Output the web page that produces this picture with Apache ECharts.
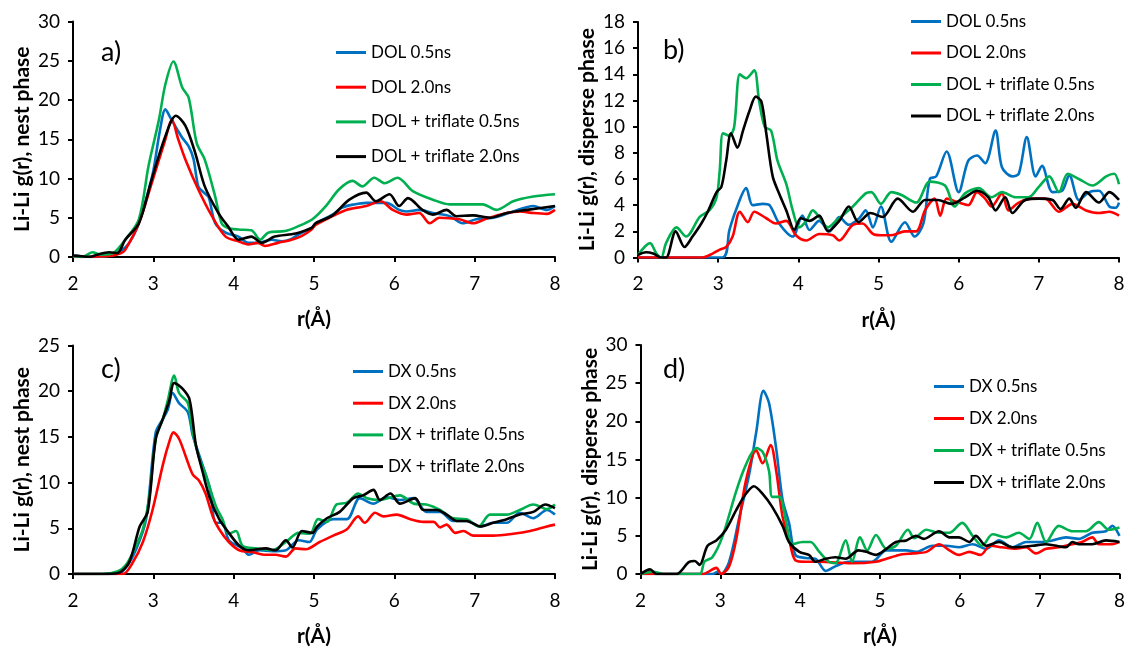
<!DOCTYPE html>
<html>
<head>
<meta charset="utf-8">
<script src="https://cdn.jsdelivr.net/npm/echarts@6/dist/echarts.min.js"></script>
<style>
  html, body { margin: 0; padding: 0; background: #fff; }
  #chart { width: 1128px; height: 648px; }
</style>
</head>
<body>
<div id="chart"></div>
<script>
// Li-Li radial distribution functions g(r), sampled as [r (Å), g(r)] pairs.

// a) DOL, nest phase
const dolNest05 = [[2,0.2],[2.1,0.1],[2.3,0],[2.5,0.3],[2.6,0.8],[2.7,1.8],[2.8,3.8],[2.9,7],[3.0,11],[3.08,16],[3.15,18.8],[3.22,17.6],[3.3,16.2],[3.36,15.2],[3.44,14.1],[3.5,12.5],[3.56,9.0],[3.63,8.2],[3.69,7.6],[3.77,4.3],[3.9,3.1],[4.06,2.6],[4.18,1.8],[4.3,1.8],[4.47,2.2],[4.6,2.0],[4.72,2.3],[4.81,2.9],[4.97,3.7],[5.02,4.3],[5.23,5.4],[5.35,6.3],[5.5,6.7],[5.65,6.9],[5.9,6.9],[6.06,6.0],[6.15,5.8],[6.31,6.0],[6.48,5.6],[6.69,5.2],[6.85,4.3],[7.02,4.8],[7.23,5.0],[7.48,5.8],[7.73,6.5],[7.9,6.0],[8.0,6.5]];
const dolNest20 = [[2,0],[2.4,0.1],[2.5,0.2],[2.6,0.5],[2.65,0.9],[2.82,4.3],[2.98,9.4],[3.15,15],[3.23,17.5],[3.31,15],[3.4,12.4],[3.56,8.6],[3.73,5.2],[3.9,2.6],[4.06,2.0],[4.18,1.6],[4.3,1.8],[4.39,1.4],[4.55,1.8],[4.72,2.2],[4.85,2.7],[4.97,3.5],[5.02,4.1],[5.23,5.2],[5.4,6.0],[5.65,6.5],[5.83,7.1],[5.98,6.0],[6.15,5.4],[6.31,5.6],[6.44,4.3],[6.56,5.0],[6.81,4.8],[6.98,4.3],[7.15,4.9],[7.4,5.6],[7.56,5.8],[7.73,5.6],[7.9,5.5],[8.0,6.0]];
const dolTfNest05 = [[2,0.1],[2.12,0],[2.24,0.6],[2.35,0.3],[2.5,0.5],[2.65,2.2],[2.82,4.8],[2.94,11.6],[3.07,17.5],[3.15,22],[3.25,24.9],[3.36,21.6],[3.44,20.3],[3.54,14.5],[3.64,12.4],[3.77,7.7],[3.85,4.3],[3.93,3.7],[4.06,3.5],[4.22,3.4],[4.33,2.2],[4.43,3.1],[4.64,3.3],[4.8,3.9],[4.98,4.8],[5.15,6.5],[5.31,8.6],[5.48,9.7],[5.6,9.0],[5.75,10.1],[5.88,9.4],[6.04,10.1],[6.23,8.4],[6.48,7.3],[6.69,6.7],[6.9,6.7],[7.1,6.7],[7.27,6.0],[7.48,7.1],[7.73,7.7],[8.0,8.0]];
const dolTfNest20 = [[2,0.2],[2.1,0.1],[2.2,0],[2.3,0.3],[2.45,0.6],[2.55,0.5],[2.65,2.2],[2.82,4.3],[2.98,9.9],[3.15,15.4],[3.28,18],[3.4,16.7],[3.52,13.3],[3.64,9.0],[3.81,5.6],[3.93,3.9],[4.06,2.2],[4.22,2.6],[4.35,1.8],[4.51,2.6],[4.72,2.9],[4.81,3.1],[4.97,3.7],[5.02,4.3],[5.23,5.3],[5.44,7.3],[5.65,8.2],[5.77,7.1],[5.94,8.0],[6.06,6.5],[6.17,7.5],[6.35,6.0],[6.48,5.4],[6.65,6.0],[6.77,5.2],[6.98,5.3],[7.19,5.0],[7.4,5.6],[7.65,6.0],[8.0,6.5]];

// b) DOL, disperse phase
const dolDisp05 = [[2,0],[3.05,0],[3.14,2.1],[3.22,3.6],[3.35,5.3],[3.43,4.0],[3.56,4.1],[3.64,4.0],[3.76,2.6],[3.93,1.6],[4.05,3.2],[4.14,2.1],[4.26,2.8],[4.39,2.0],[4.51,3.1],[4.63,2.5],[4.76,3.0],[4.84,3.6],[4.93,2.3],[5.03,3.9],[5.16,1.2],[5.33,2.7],[5.45,1.6],[5.56,2.6],[5.64,6.0],[5.72,6.2],[5.85,8.1],[6.0,5.0],[6.12,7.4],[6.23,7.8],[6.33,7.2],[6.46,9.7],[6.54,6.9],[6.67,6.2],[6.75,6.4],[6.85,9.2],[6.96,6.2],[7.04,7.0],[7.17,5.0],[7.29,5.1],[7.38,6.3],[7.5,4.4],[7.63,5.0],[7.75,5.1],[7.88,3.9],[7.96,3.8],[8.0,4.2]];
const dolDisp20 = [[2,0],[2.8,0],[2.93,0.3],[3.02,0.6],[3.1,0.8],[3.18,1.6],[3.27,3.5],[3.37,2.7],[3.45,3.5],[3.6,3.0],[3.72,2.6],[3.85,2.8],[3.97,1.7],[4.1,1.3],[4.26,1.8],[4.43,1.7],[4.51,1.3],[4.68,2.5],[4.8,2.6],[4.93,1.8],[5.03,1.7],[5.16,1.7],[5.33,2.0],[5.47,2.0],[5.58,3.6],[5.7,4.5],[5.77,3.2],[5.85,4.5],[6.0,4.2],[6.12,4.0],[6.23,5.0],[6.33,4.5],[6.41,3.9],[6.54,4.9],[6.62,3.6],[6.75,4.2],[6.92,4.5],[7.08,4.5],[7.25,3.5],[7.42,4.1],[7.59,3.6],[7.75,3.4],[7.88,3.5],[8.0,3.2]];
const dolTfDisp05 = [[2,0.2],[2.15,1.1],[2.23,0.3],[2.29,0],[2.35,1.1],[2.48,2.3],[2.6,1.6],[2.77,3.1],[2.89,3.6],[2.98,4.6],[3.02,6.7],[3.06,9.5],[3.14,9.3],[3.2,10],[3.27,14],[3.35,13.7],[3.45,14.3],[3.51,12],[3.58,10],[3.66,9.7],[3.74,7.4],[3.85,5.6],[3.93,3.6],[4.01,2.3],[4.1,2.8],[4.18,3.6],[4.26,3.1],[4.37,2.3],[4.47,2.8],[4.68,3.9],[4.84,4.9],[4.91,5.0],[5.03,4.1],[5.16,5.0],[5.28,4.8],[5.47,4.2],[5.64,5.8],[5.83,5.5],[5.95,3.9],[6.08,4.9],[6.25,5.3],[6.41,4.6],[6.54,5.0],[6.71,4.6],[6.87,4.6],[7.0,5.4],[7.13,6.2],[7.25,5.0],[7.36,6.4],[7.5,6.0],[7.67,5.5],[7.84,6.2],[7.94,6.4],[8.0,5.6]];
const dolTfDisp20 = [[2,0.2],[2.1,0.4],[2.19,0.3],[2.29,0],[2.35,0],[2.47,2.0],[2.58,0.8],[2.68,1.6],[2.79,2.6],[2.87,3.5],[2.98,5.0],[3.04,5.4],[3.1,7.4],[3.16,9.5],[3.24,8.4],[3.31,9.7],[3.39,11.2],[3.47,12.3],[3.54,11.9],[3.6,9.5],[3.68,6.2],[3.76,4.9],[3.85,3.6],[3.95,2.1],[4.03,3.0],[4.14,2.8],[4.26,3.2],[4.37,2.0],[4.51,2.8],[4.63,3.9],[4.75,2.7],[4.9,3.4],[5.05,3.1],[5.24,4.5],[5.43,3.5],[5.58,4.4],[5.74,4.4],[5.91,4.1],[6.08,4.6],[6.23,5.1],[6.37,4.6],[6.46,3.6],[6.58,4.6],[6.67,3.4],[6.83,4.4],[7.0,4.5],[7.17,4.4],[7.27,3.7],[7.38,4.5],[7.46,3.8],[7.59,5.0],[7.75,4.2],[7.88,5.0],[8.0,4.4]];

// c) DX, nest phase
const dxNest05 = [[2,0],[2.54,0],[2.65,0.6],[2.79,2.8],[2.91,6.0],[3.03,15.5],[3.12,17],[3.18,18],[3.24,19.8],[3.32,18.7],[3.43,17.7],[3.49,15.2],[3.61,12],[3.7,9.5],[3.78,5.6],[3.86,5.6],[3.94,3.7],[4.11,2.8],[4.19,2.1],[4.32,2.6],[4.48,2.5],[4.65,2.6],[4.81,3.7],[4.94,3.5],[5.04,4.9],[5.24,6.0],[5.41,6.0],[5.57,8.3],[5.74,7.7],[5.9,8.4],[6.07,8.1],[6.24,8.3],[6.4,6.8],[6.57,6.8],[6.73,5.8],[6.9,5.8],[7.07,5.2],[7.23,5.6],[7.4,5.6],[7.56,6.7],[7.73,6.1],[7.9,7.0],[8.0,6.5]];
const dxNest20 = [[2,0],[2.62,0],[2.74,1.2],[2.87,3.5],[2.99,7.0],[3.12,12],[3.2,14.5],[3.25,15.5],[3.32,14.8],[3.41,12.7],[3.49,10.9],[3.57,10.2],[3.65,8.8],[3.74,6.3],[3.82,4.9],[3.94,3.5],[4.07,2.6],[4.23,2.4],[4.4,2.1],[4.52,2.1],[4.65,1.9],[4.77,2.8],[4.9,2.7],[5.07,3.5],[5.24,4.2],[5.41,4.9],[5.55,6.3],[5.63,5.6],[5.76,6.7],[5.86,6.3],[6.03,6.5],[6.2,6.0],[6.36,5.7],[6.49,5.7],[6.57,5.1],[6.65,5.4],[6.76,4.5],[6.86,4.7],[6.98,4.2],[7.23,4.2],[7.48,4.4],[7.69,4.7],[7.9,5.2],[8.0,5.4]];
const dxTfNest05 = [[2,0],[2.37,0],[2.56,0.3],[2.66,1.0],[2.77,2.8],[2.87,4.9],[2.95,8.4],[3.03,14.8],[3.12,17],[3.18,19],[3.26,21.7],[3.32,19.8],[3.43,18.7],[3.49,15.5],[3.57,12.7],[3.65,10.9],[3.78,7.4],[3.86,6.0],[3.94,4.4],[4.03,4.7],[4.11,3.1],[4.28,2.8],[4.48,2.6],[4.65,3.5],[4.81,4.5],[4.95,4.4],[5.05,6.0],[5.16,5.7],[5.28,7.6],[5.41,7.8],[5.55,8.8],[5.66,8.3],[5.82,8.1],[6.07,8.6],[6.24,7.7],[6.4,7.6],[6.57,7.0],[6.73,6.1],[6.9,6.0],[7.05,5.2],[7.19,6.5],[7.4,6.5],[7.56,7.0],[7.73,7.6],[7.9,7.1],[8.0,7.6]];
const dxTfNest20 = [[2,0],[2.37,0],[2.56,0.1],[2.7,1.3],[2.83,5.2],[2.93,6.8],[3.03,14.8],[3.12,17],[3.2,19],[3.26,20.9],[3.36,20.3],[3.45,19.1],[3.53,14.1],[3.61,11.3],[3.7,8.4],[3.82,6.0],[3.94,4.5],[4.07,3.1],[4.19,2.6],[4.4,2.8],[4.52,2.6],[4.65,3.7],[4.73,2.9],[4.85,4.7],[4.98,4.5],[5.04,5.2],[5.16,6.1],[5.32,6.8],[5.49,8.3],[5.61,8.6],[5.74,9.2],[5.82,8.1],[5.95,8.8],[6.07,7.7],[6.26,8.3],[6.36,7.0],[6.53,7.0],[6.65,6.5],[6.78,5.8],[6.9,5.8],[7.07,5.2],[7.23,5.6],[7.4,6.0],[7.56,6.5],[7.73,6.8],[7.88,7.6],[8.0,7.2]];

// d) DX, disperse phase
const dxDisp05 = [[2,0],[2.9,0],[2.97,0.3],[3.01,0],[3.11,1.6],[3.24,7.5],[3.36,13],[3.45,18.6],[3.54,24],[3.61,22.4],[3.7,16.4],[3.78,9.7],[3.86,6.7],[3.94,2.5],[4.07,2.1],[4.19,2.0],[4.32,0.4],[4.44,1.0],[4.61,1.6],[4.78,1.6],[4.9,1.6],[5.08,3.1],[5.33,3.1],[5.45,2.9],[5.66,3.7],[5.83,3.7],[5.99,3.5],[6.16,3.9],[6.33,3.3],[6.49,4.4],[6.66,3.5],[6.83,4.2],[6.99,4.2],[7.16,4.4],[7.33,4.8],[7.49,4.6],[7.66,5.4],[7.83,5.6],[7.91,6.3],[8.0,5.0]];
const dxDisp20 = [[2,0],[2.78,0],[2.95,0.8],[3.01,0],[3.11,1.0],[3.2,4.6],[3.32,12.2],[3.45,16.2],[3.53,14.5],[3.63,16.9],[3.7,13.5],[3.78,7.5],[3.86,4.6],[3.94,1.8],[4.07,1.6],[4.24,1.6],[4.65,1.4],[4.95,1.6],[5.08,2.0],[5.24,2.5],[5.41,2.7],[5.58,2.9],[5.74,3.9],[5.87,3.1],[5.99,2.5],[6.12,2.9],[6.26,2.5],[6.38,3.7],[6.53,3.5],[6.7,3.3],[6.83,3.5],[6.95,2.7],[7.08,3.3],[7.24,3.5],[7.41,3.9],[7.53,4.2],[7.66,4.8],[7.74,3.9],[7.91,3.9],[8.0,4.2]];
const dxTfDisp05 = [[2,0],[2.16,0.3],[2.28,0],[2.74,0],[2.8,1.6],[2.9,2.2],[3.03,5.0],[3.2,10.9],[3.32,14.3],[3.45,16.5],[3.53,16],[3.61,13.5],[3.65,10.1],[3.74,10.1],[3.82,7.1],[3.9,3.9],[4.03,4.2],[4.13,4.2],[4.24,2.9],[4.36,1.6],[4.44,1.4],[4.57,4.4],[4.65,1.6],[4.75,4.8],[4.84,3.1],[4.95,5.1],[5.08,3.3],[5.2,3.7],[5.35,5.8],[5.43,4.7],[5.58,5.8],[5.74,5.4],[5.87,5.4],[6.03,6.7],[6.16,5.0],[6.28,3.7],[6.41,5.2],[6.58,4.8],[6.74,5.4],[6.87,4.6],[6.97,6.7],[7.08,4.2],[7.24,6.3],[7.41,5.6],[7.58,5.6],[7.74,6.8],[7.87,5.8],[8.0,6.1]];
const dxTfDisp20 = [[2,0],[2.12,0.6],[2.2,0],[2.45,0],[2.61,1.6],[2.68,1.7],[2.74,1.2],[2.84,3.7],[2.95,4.4],[3.07,5.8],[3.2,8.4],[3.32,10.5],[3.42,11.5],[3.53,10.5],[3.65,8.8],[3.78,6.3],[3.86,4.2],[3.99,2.9],[4.11,2.5],[4.19,1.6],[4.32,2.0],[4.44,2.2],[4.57,2.0],[4.73,3.1],[4.83,2.9],[4.95,2.5],[5.08,3.3],[5.2,4.2],[5.33,4.4],[5.45,5.0],[5.55,4.6],[5.74,5.6],[5.87,4.8],[5.99,4.8],[6.12,4.2],[6.2,5.0],[6.33,3.7],[6.49,4.2],[6.66,3.5],[6.91,3.7],[7.08,3.9],[7.33,3.5],[7.41,4.2],[7.49,3.9],[7.66,3.9],[7.83,4.4],[8.0,4.2]];

const dolNames = ['DOL 0.5ns', 'DOL 2.0ns', 'DOL + triflate 0.5ns', 'DOL + triflate 2.0ns'];
const dxNames = ['DX 0.5ns', 'DX 2.0ns', 'DX + triflate 0.5ns', 'DX + triflate 2.0ns'];
const panelLabels = ['a)', 'b)', 'c)', 'd)'];
const yNames = ['Li-Li g(r), nest phase', 'Li-Li g(r), disperse phase', 'Li-Li g(r), nest phase', 'Li-Li g(r), disperse phase'];
const yMax = [30, 18, 25, 30];
const yStep = [5, 2, 5, 5];
const xName = 'r(Å)';

const colors = ['#0070C0', '#FF0000', '#00B050', '#000000'];
const FONT = 'Lato';

const panels = [
  { names: dolNames, data: [dolNest05, dolNest20, dolTfNest05, dolTfNest20] },
  { names: dolNames, data: [dolDisp05, dolDisp20, dolTfDisp05, dolTfDisp20] },
  { names: dxNames,  data: [dxNest05, dxNest20, dxTfNest05, dxTfNest20] },
  { names: dxNames,  data: [dxDisp05, dxDisp20, dxTfDisp05, dxTfDisp20] }
];

// plot-area boxes (px) for the 2x2 layout
const grids = [
  { left: 73,  width: 482, top: 21.5, height: 235.5 },
  { left: 638, width: 481, top: 22,   height: 235.5 },
  { left: 73,  width: 482, top: 345.5, height: 235.5 },
  { left: 640.5, width: 480, top: 345, height: 236 }
];

const legendPos = [
  { left: 336, top: 42.5, itemGap: 14.7 },
  { left: 911, top: 11.5, itemGap: 11.5 },
  { left: 353, top: 361.5, itemGap: 11.7 },
  { left: 934, top: 376.5, itemGap: 12 }
];
const labelPos = [
  { left: 101, top: 39 },
  { left: 663, top: 37 },
  { left: 101, top: 356 },
  { left: 663, top: 356 }
];

const axisLine = { show: true, lineStyle: { color: '#000', width: 2 } };
const axisTick = { show: true, inside: false, length: 5, lineStyle: { color: '#000', width: 2 } };
const labelStyle = { color: '#000', fontFamily: FONT, fontSize: 19 };

const option = {
  animation: false,
  backgroundColor: '#fff',
  title: panelLabels.map((t, i) => ({
    text: t, left: labelPos[i].left, top: labelPos[i].top, padding: 0,
    textStyle: { fontFamily: FONT, fontSize: 27, fontWeight: 'normal', color: '#000' }
  })),
  grid: grids.map(g => Object.assign({ containLabel: false }, g)),
  xAxis: grids.map((g, i) => ({
    type: 'value', gridIndex: i, min: 2, max: 8, interval: 1,
    name: xName, nameLocation: 'middle', nameGap: 52,
    nameTextStyle: { fontFamily: FONT, fontSize: 21, fontWeight: 'bold', color: '#000' },
    axisLine, axisTick, splitLine: { show: false },
    axisLabel: Object.assign({ margin: 17 }, labelStyle)
  })),
  yAxis: grids.map((g, i) => ({
    type: 'value', gridIndex: i, min: 0, max: yMax[i], interval: yStep[i],
    name: yNames[i], nameLocation: 'middle', nameGap: 40, nameRotate: 90,
    nameTextStyle: { fontFamily: FONT, fontSize: 21, fontWeight: 'bold', color: '#000' },
    axisLine, axisTick, splitLine: { show: false },
    axisLabel: Object.assign({ margin: 13 }, labelStyle)
  })),
  legend: panels.map((p, i) => ({
    orient: 'vertical', left: legendPos[i].left, top: legendPos[i].top,
    itemGap: legendPos[i].itemGap, itemWidth: 30, itemHeight: 3, icon: 'rect',
    padding: 0, selectedMode: false,
    data: p.names.map((n, k) => ({ name: n, itemStyle: { color: colors[k] } })),
    textStyle: { fontFamily: FONT, fontSize: 17, color: '#000', lineHeight: 20 }
  })),
  series: []
};

panels.forEach((p, i) => {
  p.data.forEach((d, k) => {
    option.series.push({
      type: 'line', name: p.names[k], xAxisIndex: i, yAxisIndex: i,
      data: d, showSymbol: false, symbol: 'none', smooth: 0.3,
      lineStyle: { color: colors[k], width: 2.6 },
      itemStyle: { color: colors[k] },
      z: 2 + k
    });
  });
});

const chart = echarts.init(document.getElementById('chart'), null, { renderer: 'canvas' });
chart.setOption(option);
</script>
</body>
</html>
